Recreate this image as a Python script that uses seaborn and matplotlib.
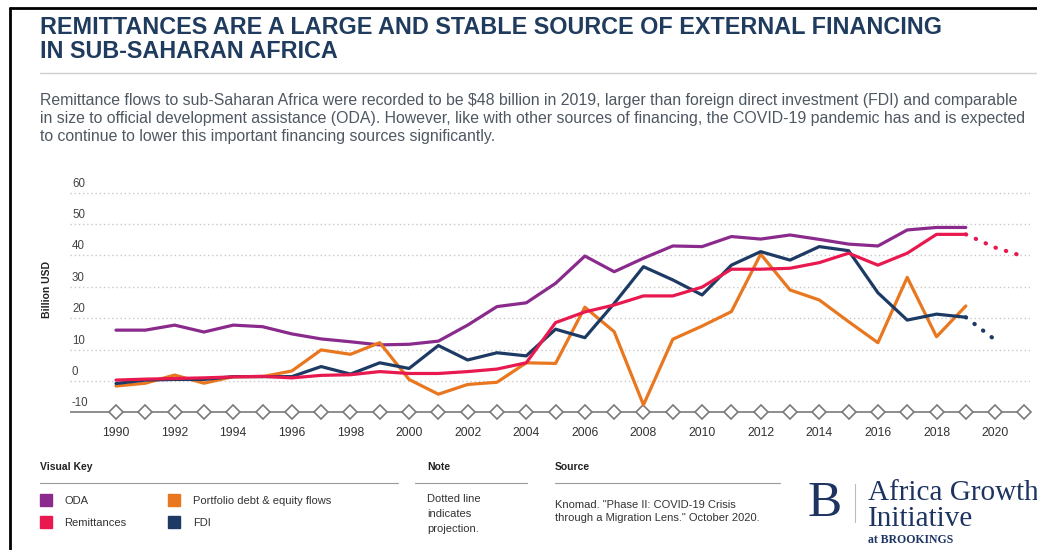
import numpy as np
import pandas as pd
import seaborn as sns
import matplotlib.pyplot as plt
from matplotlib.lines import Line2D
from matplotlib import transforms

# ---- data (billion USD) ----
years = list(range(1990, 2020))
oda = [16.2, 16.2, 17.8, 15.6, 17.8, 17.3, 15.0, 13.4, 12.5, 11.5,
       11.7, 12.7, 17.8, 23.7, 24.9, 31.1, 39.8, 34.8, 39.1, 43.0,
       42.8, 46.0, 45.2, 46.5, 45.1, 43.6, 43.0, 48.1, 48.9, 48.9]
remittances = [0.3, 0.6, 0.8, 1.0, 1.3, 1.5, 1.0, 1.8, 2.0, 3.0,
               2.4, 2.4, 3.0, 3.8, 5.8, 18.6, 22.0, 24.2, 27.1, 27.1,
               29.9, 35.6, 35.6, 35.9, 37.7, 40.7, 36.9, 40.7, 46.7, 46.7]
fdi = [-0.8, 0.3, 0.5, 0.5, 1.4, 1.4, 1.4, 4.6, 2.2, 5.8,
       4.0, 11.3, 6.7, 9.0, 8.0, 16.5, 13.8, 24.7, 36.4, 32.2,
       27.4, 36.9, 41.2, 38.5, 42.8, 41.5, 28.1, 19.4, 21.3, 20.3]
portfolio = [-1.6, -0.7, 1.9, -0.7, 1.4, 1.4, 3.2, 9.9, 8.5, 12.2,
             0.5, -4.2, -1.1, -0.4, 5.8, 5.6, 23.5, 15.7, -7.6, 13.3,
             17.5, 22.1, 40.4, 29.0, 25.8, 18.9, 12.2, 33.0, 14.1, 23.9]

# projections
remit_proj_years = [2019, 2020, 2021]
remit_proj = [46.7, 42.5, 39.6]
fdi_proj_years = [2019, 2020]
fdi_proj = [20.3, 13.1]

series_names = ["ODA", "Remittances", "Portfolio debt & equity flows", "FDI"]
colors = {"ODA": "#8a2a8c", "Remittances": "#e8194f",
          "Portfolio debt & equity flows": "#e8771f", "FDI": "#1c3a63"}
draw_order = ["ODA", "Portfolio debt & equity flows", "FDI", "Remittances"]

y_ticks = [-10, 0, 10, 20, 30, 40, 50, 60]
x_ticks = list(range(1990, 2021, 2))
axis_years = list(range(1990, 2022))

values = {"ODA": oda, "Remittances": remittances,
          "Portfolio debt & equity flows": portfolio, "FDI": fdi}
df = pd.concat([pd.DataFrame({"Year": years, "Value": values[s], "Series": s})
                for s in series_names], ignore_index=True)
proj = pd.concat([
    pd.DataFrame({"Year": remit_proj_years, "Value": remit_proj, "Series": "Remittances"}),
    pd.DataFrame({"Year": fdi_proj_years, "Value": fdi_proj, "Series": "FDI"}),
], ignore_index=True)

# ---- figure ----
sns.set_theme(style="white")
plt.rcParams["font.family"] = ["Liberation Sans", "DejaVu Sans"]

W, H = 1037, 550
fig = plt.figure(figsize=(W / 100, H / 100), dpi=100)
fig.patch.set_facecolor("white")


def fx(x):
    return x / W


def fy(y):
    return 1 - y / H


ax = fig.add_axes([fx(70), fy(417), fx(1030) - fx(70), (417 - 186) / H])
ax.set_xlim(1988.43, 2021.19)
ax.set_ylim(-11.46, 62.1)

# dotted horizontal gridlines
for v in y_ticks[1:]:
    ax.axhline(v, color="#c9c9c9", lw=1.0, ls=(0, (1, 2)), zorder=0)

# timeline baseline with diamond year markers
ax.axhline(-10, color="#7a7a7a", lw=1.2, zorder=1)
ax.plot(axis_years, [-10] * len(axis_years), "D", ms=7.5, mfc="white",
        mec="#7a7a7a", mew=1.2, clip_on=False, zorder=2)

for s in draw_order:
    sns.lineplot(data=df[df["Series"] == s], x="Year", y="Value",
                 color=colors[s], lw=2.3, ax=ax, legend=False, zorder=3)

sns.lineplot(data=proj, x="Year", y="Value", hue="Series", palette=colors,
             lw=3.0, ls=(0, (0.1, 2.5)), dash_capstyle="round",
             ax=ax, legend=False, zorder=3)

for sp in ax.spines.values():
    sp.set_visible(False)
ax.set_xlabel("")
ax.set_ylabel("")
ax.set_xticks(x_ticks)
ax.set_xticklabels([str(t) for t in x_ticks], fontsize=8.8, color="#333333")
ax.tick_params(axis="x", length=0, pad=7)
ax.set_yticks([])

# y tick labels sit just above their gridlines
off = transforms.offset_copy(ax.get_yaxis_transform(), fig=fig, x=2, y=3, units="dots")
for v in y_ticks:
    ax.text(0, v, str(v), transform=off, ha="left", va="bottom",
            fontsize=8.3, color="#444444")

fig.text(fx(47), fy(290), "Billion USD", rotation=90, ha="center", va="center",
         fontsize=7.5, weight="bold", color="#222222")

# ---- header ----
title_color = "#1f3b5e"
fig.text(fx(40), fy(28), "REMITTANCES ARE A LARGE AND STABLE SOURCE OF EXTERNAL FINANCING",
         fontsize=16.8, weight="bold", color=title_color, va="center")
fig.text(fx(40), fy(52), "IN SUB-SAHARAN AFRICA",
         fontsize=16.8, weight="bold", color=title_color, va="center")
fig.add_artist(Line2D([fx(40), 1], [fy(73), fy(73)], color="#cfcfcf", lw=1))

subtitle_lines = [
    "Remittance flows to sub-Saharan Africa were recorded to be $48 billion in 2019, "
    "larger than foreign direct investment (FDI) and comparable",
    "in size to official development assistance (ODA). However, like with other sources "
    "of financing, the COVID-19 pandemic has and is expected",
    "to continue to lower this important financing sources significantly.",
]
for line, yc in zip(subtitle_lines, [101, 119, 137]):
    fig.text(fx(40), fy(yc), line, fontsize=11.45, color="#4f5862", va="center")

# frame edges
fig.add_artist(Line2D([fx(10), 1], [fy(8), fy(8)], color="black", lw=2))
fig.add_artist(Line2D([fx(10), fx(10)], [fy(8), 0], color="black", lw=2))

# ---- footer ----
head_kw = dict(fontsize=7.5, weight="bold", color="#222222", va="center")
fig.text(fx(40), fy(467), "Visual Key", **head_kw)
fig.text(fx(427), fy(467), "Note", **head_kw)
fig.text(fx(555), fy(467), "Source", **head_kw)
for x0, x1 in [(40, 398), (415, 527), (555, 780)]:
    fig.add_artist(Line2D([fx(x0), fx(x1)], [fy(483), fy(483)], color="#9a9a9a", lw=0.8))

handles = [Line2D([], [], marker="s", ls="", ms=9, color=colors[s]) for s in series_names]
fig.legend(handles, series_names, loc="upper left", bbox_to_anchor=(fx(40), fy(496)),
           ncol=2, frameon=False, fontsize=8, handlelength=1.0, handletextpad=1.2,
           columnspacing=3.8, labelspacing=1.1, borderpad=0, borderaxespad=0,
           labelcolor="#333333")

fig.text(fx(427), fy(494), "Dotted line\nindicates\nprojection.", fontsize=8,
         color="#333333", va="top", linespacing=1.6)
fig.text(fx(555), fy(500), "Knomad. \"Phase II: COVID-19 Crisis\nthrough a Migration Lens.\" October 2020.",
         fontsize=8, color="#333333", va="top", linespacing=1.35)

logo_color = "#1d3461"
serif = ["Liberation Serif", "DejaVu Serif"]
fig.text(fx(808), fy(504), "B", fontsize=37, family=serif, color=logo_color, va="center")
fig.add_artist(Line2D([fx(855), fx(855)], [fy(484), fy(522)], color="#bbbbbb", lw=0.8))
fig.text(fx(868), fy(506), "Africa Growth\nInitiative", fontsize=21, family=serif,
         color=logo_color, va="center", linespacing=0.95)
fig.text(fx(868), fy(540), "at BROOKINGS", fontsize=8.5, family=serif, color=logo_color,
         va="center", weight="bold")

fig.savefig("out.png", dpi=100)
